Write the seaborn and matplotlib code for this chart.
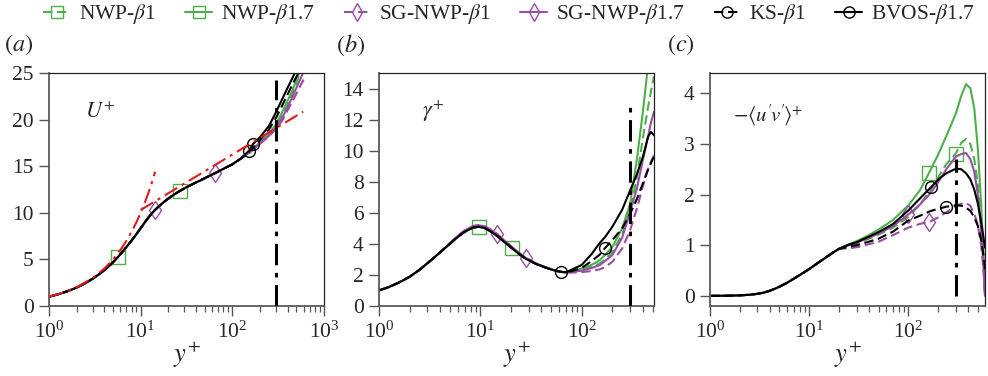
import numpy as np
import pandas as pd
import matplotlib
matplotlib.use("Agg")
import matplotlib.pyplot as plt
import seaborn as sns
from matplotlib.lines import Line2D
from matplotlib.ticker import LogLocator, NullFormatter

# ---------------- data ----------------
series = ["NWP1", "NWP17", "SG1", "SG17", "KS1", "BVOS17"]
labels = ["NWP-$\\beta$1", "NWP-$\\beta$1.7", "SG-NWP-$\\beta$1", "SG-NWP-$\\beta$1.7",
          "KS-$\\beta$1", "BVOS-$\\beta$1.7"]

# panel (a): U+
ya = [1, 1.25, 1.5, 1.75, 2, 2.5, 3, 3.5, 4, 4.5, 5, 5.7, 6.5, 7.3, 8, 9, 10, 11, 12, 13,
      14.3, 15.5, 17, 18.5, 20, 23, 26.8, 31, 35, 40, 45, 54, 64.6, 80, 100, 125,
      153, 169, 200, 250, 300, 350, 400, 450, 500, 550, 600]
Ua_base = [1.0, 1.25, 1.5, 1.74, 1.98, 2.46, 2.93, 3.39, 3.84, 4.27, 4.7, 5.3, 5.95, 6.55,
           7.05, 7.72, 8.35, 8.92, 9.42, 9.85, 10.3, 10.62, 10.97, 11.27, 11.52, 11.95, 12.35,
           12.7, 12.97, 13.25, 13.48, 13.88, 14.25, 14.72, 15.2, 15.85]
Ua_NWP1 = Ua_base + [16.5, 16.9, 17.5, 18.3, 19.3, 20.5, 21.7, 22.8, 23.9, 25.1, 26.3]
Ua_NWP17 = Ua_base + [16.5, 16.9, 17.55, 18.45, 19.5, 20.8, 22.0, 23.1, 24.2, 25.4, 26.6]
Ua_SG1 = Ua_base + [16.4, 16.8, 17.4, 18.2, 19.0, 19.9, 21.0, 21.9, 22.8, 23.6, 24.3]
Ua_SG17 = Ua_base + [16.45, 16.85, 17.45, 18.25, 19.1, 20.2, 21.3, 22.4, 23.4, 24.3, 25.2]
Ua_KS1 = Ua_base + [16.6, 17.0, 17.8, 18.9, 20.2, 21.5, 22.7, 23.7, 24.6, 25.3, 26.0]
Ua_BVOS17 = Ua_base + [16.7, 17.4, 18.1, 19.3, 20.8, 22.2, 23.4, 24.4, 25.4, 26.4, 27.4]

visc_y = [1, 1.5, 2, 3, 4, 5, 6, 7, 8, 9, 10, 11, 12, 13, 14.4]
visc_U = [1, 1.5, 2, 3, 4, 5, 6, 7, 8, 9, 10, 11, 12, 13, 14.4]
loglaw_y = [10.0, 593]
loglaw_U = [10.3, 20.85]

# panel (b): gamma+
yb = [1, 1.25, 1.5, 1.75, 2, 2.5, 3, 3.5, 4, 4.5, 5, 5.5, 6, 7, 8.5, 9.6, 11, 12.5, 14.7,
      17, 20.5, 24, 28, 35, 45, 53, 62, 70,
      80, 100, 125, 150, 170, 200, 250, 300, 350, 400, 450, 480, 515]
gb_base = [1.0, 1.22, 1.45, 1.67, 1.88, 2.32, 2.75, 3.12, 3.45, 3.74, 4.0, 4.24, 4.45, 4.78,
           5.05, 5.1, 5.02, 4.82, 4.5, 4.15, 3.72, 3.35, 3.05, 2.72, 2.45, 2.3, 2.2, 2.17]
gb_purple = [1.0, 1.22, 1.45, 1.67, 1.88, 2.32, 2.75, 3.12, 3.46, 3.77, 4.05, 4.3, 4.52, 4.87,
             5.15, 5.2, 5.13, 4.93, 4.62, 4.25, 3.8, 3.42, 3.1, 2.75, 2.47, 2.31, 2.2, 2.16]
gb_NWP1 = gb_base + [2.2, 2.35, 2.55, 2.74, 3.0, 3.5, 4.6, 6.17, 8.3, 10.8, 12.8, 13.8, 14.8]
gb_NWP17 = gb_base + [2.2, 2.42, 2.65, 2.95, 3.3, 3.8, 5.0, 6.6, 9.5, 12.5, 15.5, 17.3, 19.0]
gb_SG1 = gb_purple + [2.15, 2.18, 2.25, 2.36, 2.5, 2.85, 3.7, 4.9, 6.3, 7.7, 8.8, 9.3, 9.7]
gb_SG17 = gb_purple + [2.2, 2.27, 2.45, 2.63, 2.9, 3.28, 4.4, 6.06, 7.6, 9.4, 10.9, 11.8, 12.5]
gb_KS1 = gb_base + [2.25, 2.45, 2.9, 3.3, 3.74, 4.24, 5.0, 5.95, 6.9, 7.9, 8.8, 9.2, 9.6]
gb_BVOS17 = gb_base + [2.35, 2.65, 3.35, 4.05, 4.45, 5.1, 6.2, 7.45, 8.5, 9.6, 10.9, 11.2, 11.0]

# panel (c): -<u'v'>+
yc = [1, 1.5, 2, 2.5, 3, 3.5, 4, 4.5, 5, 6, 7, 8, 10, 12, 15, 17.5, 20,
      25, 30, 40, 50, 70, 100, 130, 160, 170, 200, 240, 300, 340,
      380, 420, 460, 500, 540, 570, 590]
uv_base = [0.0, 0.003, 0.01, 0.022, 0.04, 0.065, 0.1, 0.14, 0.18, 0.26, 0.34, 0.41, 0.53,
           0.64, 0.77, 0.86, 0.93]
uv_NWP1 = uv_base + [0.99, 1.03, 1.13, 1.21, 1.35, 1.56, 1.8, 2.05, 2.12, 2.35, 2.6, 2.81, 3.02,
                     3.1, 3.0, 2.7, 2.2, 1.4, 0.65, 0.0]
uv_NWP17 = uv_base + [1.02, 1.08, 1.2, 1.31, 1.5, 1.79, 2.08, 2.42, 2.52, 2.8, 3.15, 3.6, 3.95,
                      4.18, 4.1, 3.7, 2.9, 1.8, 0.8, 0.0]
uv_SG1 = uv_base + [0.94, 0.96, 1.02, 1.07, 1.2, 1.35, 1.42, 1.46, 1.48, 1.55, 1.65, 1.77, 1.82,
                    1.83, 1.78, 1.62, 1.4, 1.0, 0.5, 0.0]
uv_SG17 = uv_base + [1.0, 1.05, 1.15, 1.23, 1.38, 1.61, 1.8, 1.99, 2.05, 2.25, 2.5, 2.75, 2.8,
                     2.82, 2.7, 2.45, 2.0, 1.3, 0.6, 0.0]
uv_KS1 = uv_base + [0.97, 1.0, 1.07, 1.13, 1.27, 1.49, 1.58, 1.66, 1.68, 1.72, 1.76, 1.79, 1.78,
                    1.74, 1.68, 1.55, 1.38, 1.1, 0.8, 0.5]
uv_BVOS17 = uv_base + [1.01, 1.06, 1.17, 1.26, 1.42, 1.69, 1.92, 2.1, 2.15, 2.3, 2.42, 2.51, 2.5,
                       2.42, 2.3, 2.1, 1.82, 1.45, 1.15, 0.95]

# marker positions (y+) per series and panel
mark_a = {"NWP1": [5.7], "NWP17": [26.8], "SG1": [14.3], "SG17": [64.6], "KS1": [153], "BVOS17": [169]}
mark_b = {"NWP1": [20.5], "NWP17": [9.6], "SG1": [28], "SG17": [14.7], "KS1": [170], "BVOS17": [62]}
mark_c = {"NWP1": [300], "NWP17": [160], "SG1": [160], "SG17": [100], "KS1": [240], "BVOS17": [170]}

vline_x = [300, 300]
vline_a = [0, 24.2]
vline_b = [0, 13.0]
vline_c = [0, 2.7]

# ---------------- style ----------------
sns.set_theme(style="ticks")
plt.rcParams["font.family"] = ["Liberation Serif", "DejaVu Serif"]
plt.rcParams["mathtext.fontset"] = "stix"

GREEN = "#4daf4a"
PURPLE = "#984ea3"
RED = "#e41a1c"
DASH = (0, (4.5, 2.2))
DASHDOT = (0, (7, 2.5, 1.5, 2.5))
styles = {
    "NWP1": (GREEN, DASH, "s"),
    "NWP17": (GREEN, "-", "s"),
    "SG1": (PURPLE, DASH, "d"),
    "SG17": (PURPLE, "-", "d"),
    "KS1": ("black", DASH, "o"),
    "BVOS17": ("black", "-", "o"),
}

fig = plt.figure(figsize=(9.88, 3.76), dpi=100)
W, H = 988, 376
axw, axh = 275 / W, 233 / H
bottom = (H - 306) / H
lefts = [49 / W, 379 / W, 710 / W]
axes = [fig.add_axes([l, bottom, axw, axh]) for l in lefts]

panels = [
    (axes[0], ya, {"NWP1": Ua_NWP1, "NWP17": Ua_NWP17, "SG1": Ua_SG1, "SG17": Ua_SG17,
                   "KS1": Ua_KS1, "BVOS17": Ua_BVOS17}, mark_a),
    (axes[1], yb, {"NWP1": gb_NWP1, "NWP17": gb_NWP17, "SG1": gb_SG1, "SG17": gb_SG17,
                   "KS1": gb_KS1, "BVOS17": gb_BVOS17}, mark_b),
    (axes[2], yc, {"NWP1": uv_NWP1, "NWP17": uv_NWP17, "SG1": uv_SG1, "SG17": uv_SG17,
                   "KS1": uv_KS1, "BVOS17": uv_BVOS17}, mark_c),
]

for ax, xs, data, marks in panels:
    ax.set_xscale("log")
    for s in series:
        c, ls, m = styles[s]
        idx = [xs.index(v) for v in marks[s]]
        df = pd.DataFrame({"y": xs, "v": data[s]})
        sns.lineplot(data=df, x="y", y="v", ax=ax, color=c, linestyle=ls, linewidth=1.5,
                     marker=m, markevery=idx, markersize=9.5 if m != "o" else 8.5,
                     markerfacecolor="none", markeredgecolor=c, markeredgewidth=1.0,
                     estimator=None, sort=False, legend=False)

# reference lines
axes[0].plot(visc_y, visc_U, color=RED, lw=1.5, ls=DASHDOT, zorder=5)
axes[0].plot(loglaw_y, loglaw_U, color=RED, lw=1.5, ls=DASHDOT, zorder=5)
axes[0].plot(vline_x, vline_a, color="black", lw=2.2, ls=DASHDOT, zorder=6)
axes[1].plot(vline_x, vline_b, color="black", lw=2.2, ls=DASHDOT, zorder=6)
axes[2].plot(vline_x, vline_c, color="black", lw=2.2, ls=DASHDOT, zorder=6)

# axes limits & ticks
axes[0].set_xlim(1, 1000)
axes[0].set_ylim(0, 25)
axes[0].set_yticks([0, 5, 10, 15, 20, 25])
axes[1].set_xlim(1, 515)
axes[1].set_ylim(0, 15)
axes[1].set_yticks([0, 2, 4, 6, 8, 10, 12, 14])
axes[2].set_xlim(1, 590)
axes[2].set_ylim(-0.2, 4.4)
axes[2].set_yticks([0, 1, 2, 3, 4])

for ax in axes:
    ax.xaxis.set_major_locator(LogLocator(base=10, numticks=10))
    ax.xaxis.set_minor_locator(LogLocator(base=10, subs=np.arange(2, 10), numticks=20))
    ax.xaxis.set_minor_formatter(NullFormatter())
    ax.tick_params(axis="both", which="major", direction="out", length=7, width=1.0,
                   labelsize=15.5, pad=4, color="#555555")
    ax.tick_params(axis="x", which="minor", direction="out", length=4, width=0.9,
                   color="#555555")
    ax.tick_params(axis="y", which="minor", length=0)
    for sp in ["left", "bottom"]:
        ax.spines[sp].set_color("#5a5a5a")
        ax.spines[sp].set_linewidth(1.3)
    for sp in ["top", "right"]:
        ax.spines[sp].set_color("#222222")
        ax.spines[sp].set_linewidth(0.9)
    ax.set_xlabel("$y^{+}$", fontsize=19, labelpad=-2)
    ax.set_ylabel("")
    ax.grid(False)

# inner labels
axes[0].text(0.13, 0.83, "$U^{+}$", transform=axes[0].transAxes, fontsize=16, va="center")
axes[1].text(0.155, 0.835, "$\\gamma^{+}$", transform=axes[1].transAxes, fontsize=16, va="center")
axes[2].text(0.085, 0.82, "$-\\langle u'\\!v'\\!\\rangle^{+}$",
             transform=axes[2].transAxes, fontsize=15, va="center")

# panel letters
for lab, x in zip(["a", "b", "c"], [4, 336, 667]):
    fig.text(x / W, 1 - 45 / H, "$(" + lab + ")$", fontsize=17.5, va="center", ha="left")

# legend
handles = []
for s, lab in zip(series, labels):
    c, ls, m = styles[s]
    handles.append(Line2D([0], [0], color=c, ls=ls, lw=1.5, marker=m,
                          markersize=9 if m != "o" else 8,
                          markerfacecolor="none", markeredgecolor=c, markeredgewidth=1.0,
                          label=lab))
fig.legend(handles=handles, loc="upper center", bbox_to_anchor=(0.515, 1.045), ncol=6,
           frameon=False, fontsize=15.5, handlelength=1.25, handletextpad=0.4,
           columnspacing=1.35)

fig.savefig("out.png", dpi=100)
